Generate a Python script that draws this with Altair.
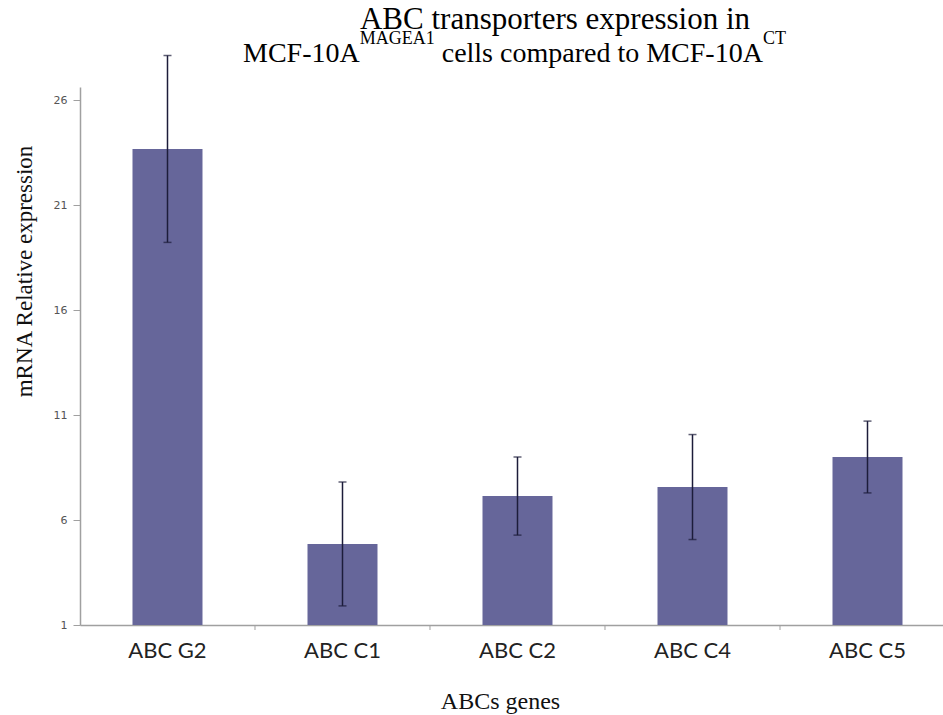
import altair as alt
import pandas as pd

# ---- data ----
genes = ["ABC G2", "ABC C1", "ABC C2", "ABC C4", "ABC C5"]
means = [23.67, 4.86, 7.14, 7.57, 9.0]
errors = [4.45, 2.95, 1.86, 2.50, 1.71]
y_ticks = [1, 6, 11, 16, 21, 26]

title_line1 = ["ABC transporters expression in"]
title_base_a = ["MCF-10A"]
title_sup_a = ["MAGEA1"]
title_base_b = ["cells compared to MCF-10A"]
title_sup_b = ["CT"]

x_title = "ABCs genes"
y_title = "mRNA Relative expression"

df = pd.DataFrame({
    "gene": genes,
    "mean": means,
    "lo": [m - e for m, e in zip(means, errors)],
    "hi": [m + e for m, e in zip(means, errors)],
})

BAR = "#66669A"
ERR = "#1c1c3a"
AXIS = "#a0a0a0"

W, H = 863, 538

xscale = alt.Scale(domain=genes, paddingInner=0.6, paddingOuter=0.2657,
                   align=0.5645, round=False)
yscale = alt.Scale(domain=[1, 26.62], nice=False, zero=False)

xaxis = alt.Axis(
    title=x_title, labelAngle=0, labelFont="Lato", labelFontSize=22,
    labelColor="#222222", labelBaseline="alphabetic", labelPadding=32,
    ticks=False, tickSize=0, domainColor=AXIS, domainWidth=1.5,
    titleFont="Liberation Serif", titleFontSize=24, titleFontWeight="normal",
    titleColor="#111111", titleX=420, titleY=83, titleAlign="center",
    titleBaseline="alphabetic",
)
yaxis = alt.Axis(
    title=y_title, values=y_ticks, labelFont="DejaVu Sans", labelFontSize=11,
    labelColor="#555555", labelPadding=6, tickSize=7, tickColor=AXIS,
    domainColor=AXIS, domainWidth=1.5, grid=False,
    titleFont="Liberation Serif", titleFontSize=23, titleFontWeight="normal",
    titleColor="#111111", titleX=-56, titleY=184, titleAngle=270,
    titleAlign="center", titleBaseline="middle",
)

base = alt.Chart(df)

bars = base.mark_bar(color=BAR).encode(
    x=alt.X("gene:N", scale=xscale, axis=xaxis, sort=genes),
    y=alt.Y("mean:Q", scale=yscale, axis=yaxis),
    y2=alt.datum(1),
)

err_rule = base.mark_rule(color=ERR, strokeWidth=1.5).encode(
    x=alt.X("gene:N", sort=genes), y="lo:Q", y2="hi:Q"
)
cap_lo = base.mark_tick(color=ERR, orient="horizontal", size=8, thickness=1.5).encode(
    x=alt.X("gene:N", sort=genes), y="lo:Q"
)
cap_hi = base.mark_tick(color=ERR, orient="horizontal", size=8, thickness=1.5).encode(
    x=alt.X("gene:N", sort=genes), y="hi:Q"
)

# small category-boundary ticks on the x axis (Excel style)
bticks = alt.Chart(pd.DataFrame({"gene": genes[1:]})).mark_rule(
    color=AXIS, xOffset=-52.5, strokeWidth=1
).encode(
    x=alt.X("gene:N", bandPosition=0, sort=genes),
    y=alt.value(H), y2=alt.value(H + 5),
)

def txt(values, size, x, y, align="left"):
    return alt.Chart(pd.DataFrame({"t": values})).mark_text(
        font="Liberation Serif", fontSize=size, color="#000000",
        align=align, baseline="alphabetic",
    ).encode(text="t:N", x=alt.value(x), y=alt.value(y))

OX, OY = 80, 87  # plot origin in page pixels
t1 = txt(title_line1, 31, 555 - OX, 29 - OY, align="center")
t2a = txt(title_base_a, 28, 243 - OX, 62 - OY)
t2s = txt(title_sup_a, 18, 359.7 - OX, 44 - OY)
t2b = txt(title_base_b, 28, 441.7 - OX, 62 - OY)
t2t = txt(title_sup_b, 18, 762.9 - OX, 44 - OY)

chart = alt.layer(
    bars, err_rule, cap_lo, cap_hi, bticks, t1, t2a, t2s, t2b, t2t
).properties(
    width=W, height=H,
    autosize=alt.AutoSizeParams(type="none"),
    padding={"left": OX, "top": OY, "right": 0, "bottom": 715 - OY - H},
    background="white",
).configure_view(stroke=None)

chart.save("out.html", embed_options={"renderer": "svg", "actions": False})
